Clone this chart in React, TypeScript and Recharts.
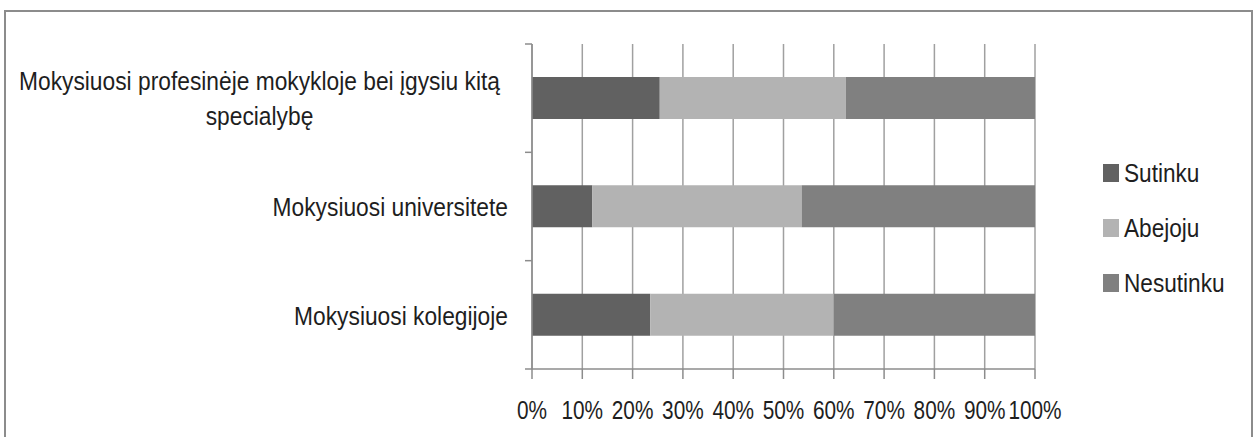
import React from "react";
import { BarChart, Bar, XAxis, YAxis, CartesianGrid, Legend } from "recharts";

const categories = [
  "Mokysiuosi profesinėje mokykloje bei įgysiu kitą specialybę",
  "Mokysiuosi universitete",
  "Mokysiuosi kolegijoje",
];
const categoryLines = [
  ["Mokysiuosi profesinėje mokykloje bei įgysiu kitą", "specialybę"],
  ["Mokysiuosi universitete"],
  ["Mokysiuosi kolegijoje"],
];
const sutinku = [25.4, 12.0, 23.5];
const abejoju = [37.0, 41.6, 36.5];
const nesutinku = [37.6, 46.4, 40.0];
const xTicks = [0, 10, 20, 30, 40, 50, 60, 70, 80, 90, 100];
const seriesNames = ["Sutinku", "Abejoju", "Nesutinku"];
const seriesColors = ["#616161", "#b3b3b3", "#808080"];

const data = categories.map((name, i) => ({
  name,
  Sutinku: sutinku[i],
  Abejoju: abejoju[i],
  Nesutinku: nesutinku[i],
}));

const FONT = "'Liberation Sans', Arial, sans-serif";
const TEXT_COLOR = "#1e1e1e";
const W = 1257;
const H = 437;
const M = { top: 44, right: 222, bottom: 18, left: 0 };
const X_AXIS_H = 50;
const Y_AXIS_W = 532;
const plotH = H - M.top - M.bottom - X_AXIS_H;
const band = plotH / categories.length;

function NarrowText({ x, y, sx, size, anchor, children }: any) {
  return (
    <text
      transform={`translate(${x},${y}) scale(${sx},1)`}
      x={0}
      y={0}
      textAnchor={anchor}
      fontSize={size}
      fontFamily={FONT}
      fill={TEXT_COLOR}
    >
      {children}
    </text>
  );
}

function YTick(props: any) {
  const { x, y, index } = props;
  const lines = categoryLines[index] || [String(props.payload.value)];
  const tickColor = "#8c8c8c";
  return (
    <g>
      <line x1={x - 7} y1={y - band / 2} x2={x} y2={y - band / 2} stroke={tickColor} strokeWidth={1.5} />
      {index === categories.length - 1 && (
        <line x1={x - 7} y1={y + band / 2} x2={x} y2={y + band / 2} stroke={tickColor} strokeWidth={1.5} />
      )}
      {lines.length > 1 ? (
        lines.map((l, i) => (
          <NarrowText key={i} x={x - 272.5} y={y - 7.7 + i * 35} sx={0.876} size={26} anchor="middle">
            {l}
          </NarrowText>
        ))
      ) : (
        <NarrowText x={x - 24} y={y + 9.7} sx={0.876} size={26} anchor="end">
          {lines[0]}
        </NarrowText>
      )}
    </g>
  );
}

function XTick(props: any) {
  const { x, y, payload } = props;
  return (
    <NarrowText x={x} y={y + 40} sx={0.8} size={26} anchor="middle">
      {`${payload.value}%`}
    </NarrowText>
  );
}

function LegendContent() {
  return (
    <svg width={150} height={170}>
      {seriesNames.map((n, i) => (
        <g key={n}>
          <rect x={0} y={14 + i * 55} width={16} height={18} fill={seriesColors[i]} />
          <NarrowText x={21} y={31.7 + i * 55} sx={0.87} size={26} anchor="start">
            {n}
          </NarrowText>
        </g>
      ))}
    </svg>
  );
}

export default function App() {
  return (
    <div
      style={{
        position: "fixed",
        left: 0,
        top: 0,
        width: W,
        height: H,
        overflow: "hidden",
        background: "#fff",
      }}
    >
      <div
        style={{
          position: "absolute",
          left: 4,
          top: 10,
          width: 1249,
          height: 480,
          border: "2px solid #8c8c8c",
          boxSizing: "border-box",
        }}
      />
      <div style={{ position: "absolute", left: 0, top: 0 }}>
        <BarChart width={W} height={H} data={data} layout="vertical" margin={M} barSize={42}>
          <CartesianGrid horizontal={false} vertical={true} stroke="#a0a0a0" strokeWidth={1.5} />
          <XAxis
            type="number"
            domain={[0, 100]}
            ticks={xTicks}
            interval={0}
            height={X_AXIS_H}
            axisLine={{ stroke: "#8c8c8c", strokeWidth: 1.5 }}
            tickLine={{ stroke: "#8c8c8c", strokeWidth: 1.5 }}
            tickSize={10}
            tickMargin={0}
            tick={<XTick />}
          />
          <YAxis
            type="category"
            dataKey="name"
            width={Y_AXIS_W}
            axisLine={{ stroke: "#8c8c8c", strokeWidth: 1.5 }}
            tickLine={false}
            tickSize={0}
            tickMargin={0}
            interval={0}
            tick={<YTick />}
          />
          <Legend
            layout="vertical"
            align="center"
            verticalAlign="middle"
            content={<LegendContent />}
            wrapperStyle={{ left: 1103, top: 150, width: 150, height: 170 }}
          />
          {seriesNames.map((n, i) => (
            <Bar key={n} dataKey={n} stackId="a" fill={seriesColors[i]} isAnimationActive={false} />
          ))}
        </BarChart>
      </div>
    </div>
  );
}
